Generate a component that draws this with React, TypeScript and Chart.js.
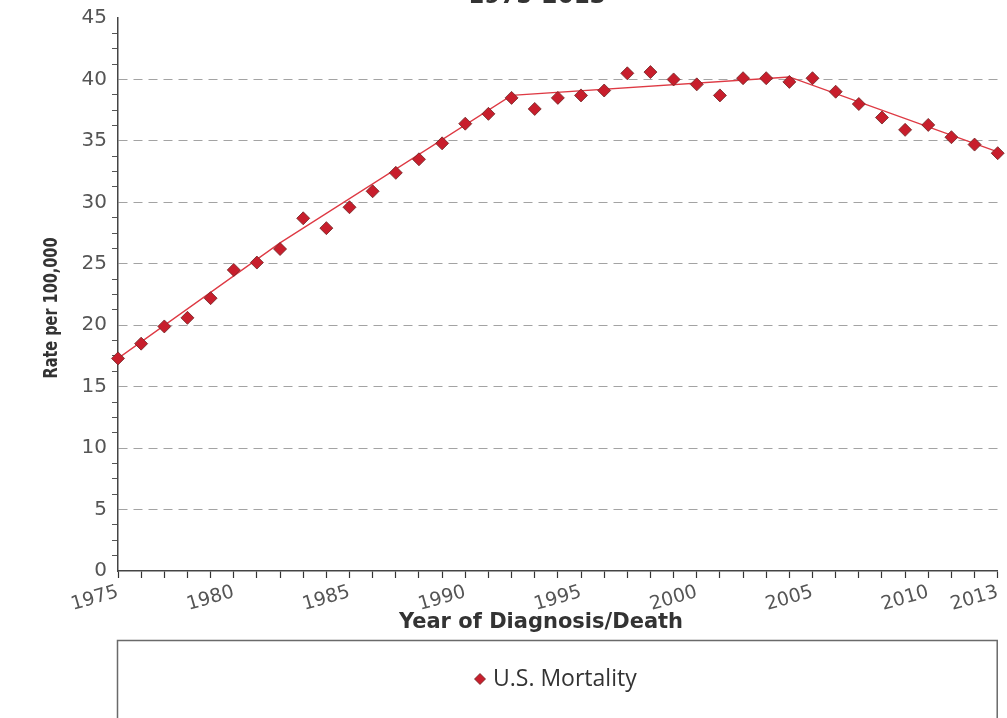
import React, { useEffect, useRef } from 'react';
import { Chart, registerables } from 'chart.js';

Chart.register(...registerables);

// ---- data ----
const years = [
  1975, 1976, 1977, 1978, 1979, 1980, 1981, 1982, 1983, 1984,
  1985, 1986, 1987, 1988, 1989, 1990, 1991, 1992, 1993, 1994,
  1995, 1996, 1997, 1998, 1999, 2000, 2001, 2002, 2003, 2004,
  2005, 2006, 2007, 2008, 2009, 2010, 2011, 2012, 2013,
];
const mortality = [
  17.3, 18.5, 19.9, 20.6, 22.2, 24.5, 25.1, 26.2, 28.7, 27.9,
  29.6, 30.9, 32.4, 33.5, 34.8, 36.4, 37.2, 38.5, 37.6, 38.5,
  38.7, 39.1, 40.5, 40.6, 40.0, 39.6, 38.7, 40.1, 40.1, 39.8,
  40.1, 39.0, 38.0, 36.9, 35.9, 36.3, 35.3, 34.7, 34.0,
];
const trendYears = [1975, 1982, 1992, 2004, 2013];
const trendValues = [17.3, 26.7, 38.7, 40.2, 34.1];
const xLabelYears = [1975, 1980, 1985, 1990, 1995, 2000, 2005, 2010, 2013];
const yLabelValues = [0, 5, 10, 15, 20, 25, 30, 35, 40, 45];

const chartTitle = '1975-2013';
const yTitle = 'Rate per 100,000';
const xTitle = 'Year of Diagnosis/Death';
const seriesName = 'U.S. Mortality';

// canvas is shifted up so the title is cut off like in the reference
const OFFSET = 40;
const CANVAS_W = 1007;
const CANVAS_H = 800;

const isMajor = (v: number) => yLabelValues.some((m) => Math.abs(m - v) < 1e-6);

const decorPlugin = {
  id: 'decor',
  afterDraw(chart: any) {
    const ctx = chart.ctx as CanvasRenderingContext2D;
    const { left, right } = chart.chartArea;
    ctx.save();
    ctx.fillStyle = '#333';

    // title (mostly cut off)
    ctx.font = 'bold 23px "DejaVu Sans", sans-serif';
    ctx.textAlign = 'center';
    ctx.textBaseline = 'alphabetic';
    ctx.fillText(chartTitle, 537, OFFSET + 3);

    // y axis title (condensed to the reference width)
    ctx.save();
    ctx.font = 'bold 20px "DejaVu Sans Condensed", "DejaVu Sans", sans-serif';
    const w = ctx.measureText(yTitle).width;
    const sx = w > 0 ? 141 / w : 1;
    ctx.translate(52, OFFSET + 308);
    ctx.rotate(-Math.PI / 2);
    ctx.scale(sx, 1);
    ctx.textAlign = 'center';
    ctx.textBaseline = 'middle';
    ctx.fillText(yTitle, 0, 0);
    ctx.restore();

    // x axis title
    ctx.font = 'bold 21px "DejaVu Sans", sans-serif';
    ctx.textAlign = 'center';
    ctx.textBaseline = 'middle';
    ctx.fillText(xTitle, 541, OFFSET + 623);

    // legend box
    ctx.strokeStyle = '#6a6a6a';
    ctx.lineWidth = 1.5;
    ctx.strokeRect(left - 0.5, OFFSET + 640.5, right - left, 200);

    // legend item
    const ds = chart.data.datasets[0];
    const cx = 480;
    const cy = OFFSET + 679;
    const r = 5.5;
    ctx.beginPath();
    ctx.moveTo(cx - r, cy);
    ctx.lineTo(cx, cy - r);
    ctx.lineTo(cx + r, cy);
    ctx.lineTo(cx, cy + r);
    ctx.closePath();
    ctx.fillStyle = ds.pointBackgroundColor;
    ctx.fill();
    ctx.strokeStyle = ds.pointBorderColor;
    ctx.lineWidth = 0.8;
    ctx.stroke();

    ctx.fillStyle = '#333';
    ctx.font = '23px "Open Sans", sans-serif';
    ctx.textAlign = 'left';
    ctx.textBaseline = 'middle';
    ctx.fillText(ds.label, 493, cy);

    ctx.restore();
  },
};

export default function App() {
  const ref = useRef<HTMLCanvasElement>(null);

  useEffect(() => {
    if (!ref.current) return;
    const chart = new Chart(ref.current, {
      type: 'line',
      data: {
        datasets: [
          {
            label: seriesName,
            data: years.map((y, i) => ({ x: y, y: mortality[i] })),
            showLine: false,
            pointStyle: 'rectRot',
            pointRadius: 6.5,
            pointBackgroundColor: '#c81e2c',
            pointBorderColor: '#6e2424',
            pointBorderWidth: 0.8,
            clip: false,
          },
          {
            label: 'Trend',
            data: trendYears.map((y, i) => ({ x: y, y: trendValues[i] })),
            borderColor: '#de3a44',
            borderWidth: 1.3,
            pointRadius: 0,
            fill: false,
            tension: 0,
          },
        ],
      },
      plugins: [decorPlugin],
      options: {
        responsive: false,
        animation: false,
        events: [],
        layout: {
          padding: { left: 0, right: 9, top: OFFSET + 18, bottom: CANVAS_H - (OFFSET + 571) - 40 },
        },
        plugins: {
          legend: { display: false },
          title: { display: false },
          tooltip: { enabled: false },
        },
        scales: {
          x: {
            type: 'linear',
            min: 1975,
            max: 2013,
            afterFit: (scale: any) => {
              scale.height = 40;
            },
            ticks: {
              stepSize: 1,
              autoSkip: false,
              minRotation: 16,
              maxRotation: 16,
              padding: 3,
              color: '#555',
              font: { family: '"DejaVu Sans", sans-serif', size: 19 },
              callback: (v: any) => (xLabelYears.includes(Number(v)) ? String(v) : ''),
            },
            grid: {
              drawOnChartArea: false,
              drawTicks: true,
              tickLength: 7,
              tickColor: '#333',
              tickWidth: 1.2,
            },
            border: { display: true, color: '#444', width: 1.5 },
          },
          y: {
            type: 'linear',
            min: 0,
            max: 45,
            afterFit: (scale: any) => {
              scale.width = 118;
            },
            ticks: {
              stepSize: 1.25,
              autoSkip: false,
              padding: 5,
              color: '#555',
              font: { family: '"DejaVu Sans", sans-serif', size: 20 },
              callback: (v: any) => (isMajor(Number(v)) ? String(Math.round(Number(v))) : ''),
            },
            grid: {
              drawTicks: true,
              tickLength: 6,
              lineWidth: 1,
              color: (c: any) => {
                const v = c.tick ? c.tick.value : 0;
                return isMajor(v) && v > 0.1 && v < 44.9 ? '#a3a3a3' : 'rgba(0,0,0,0)';
              },
              tickColor: (c: any) => {
                const v = c.tick ? c.tick.value : 0;
                return isMajor(v) ? 'rgba(0,0,0,0)' : '#555';
              },
              tickWidth: 1,
            },
            border: { display: true, color: '#444', width: 1.5, dash: [9, 6] },
          },
        },
      } as any,
    });
    return () => chart.destroy();
  }, []);

  return (
    <div
      style={{
        position: 'fixed',
        left: 0,
        top: 0,
        width: CANVAS_W,
        height: 718,
        overflow: 'hidden',
        background: '#fff',
      }}
    >
      <canvas
        ref={ref}
        width={CANVAS_W}
        height={CANVAS_H}
        style={{ position: 'absolute', left: 0, top: -OFFSET, width: CANVAS_W, height: CANVAS_H }}
      />
    </div>
  );
}
